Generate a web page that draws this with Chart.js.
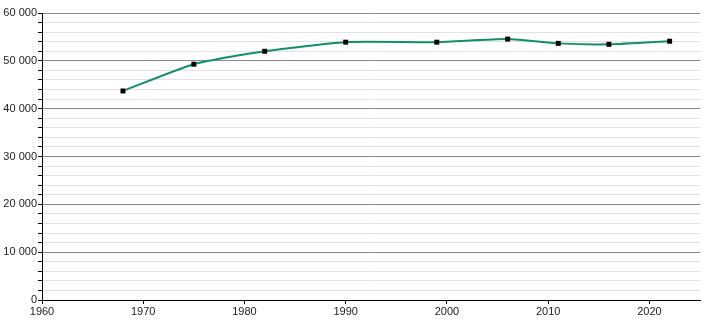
<!DOCTYPE html>
<html>
<head>
<meta charset="utf-8">
<script src="https://cdn.jsdelivr.net/npm/chart.js@4"></script>
<style>
  html, body { margin: 0; padding: 0; background: #fff; }
  #wrap { width: 710px; height: 320px; }
</style>
</head>
<body>
<div id="wrap"><canvas id="pop"></canvas></div>
<script>
// Population by census year.
const years = [1968, 1975, 1982, 1990, 1999, 2006, 2011, 2016, 2022];
const population = [43700, 49300, 52000, 53900, 53900, 54550, 53650, 53450, 54100];

const yTickLabels = [0, 10000, 20000, 30000, 40000, 50000, 60000];
const xTickLabels = [1960, 1970, 1980, 1990, 2000, 2010, 2020];

// "60 000" style formatting
const fmt = v => String(v).replace(/\B(?=(\d{3})+(?!\d))/g, " ");

new Chart(document.getElementById("pop"), {
  type: "line",
  data: {
    datasets: [{
      data: years.map((y, i) => ({ x: y, y: population[i] })),
      borderColor: "#10906a",
      borderWidth: 2,
      tension: 0.2,
      pointStyle: "rect",
      pointRadius: 3.5,
      pointBorderWidth: 0,
      pointBackgroundColor: "#000",
      fill: false,
    }],
  },
  options: {
    responsive: true,
    maintainAspectRatio: false,
    animation: false,
    layout: { padding: { top: 13, right: 10, left: 0, bottom: 0 } },
    plugins: { legend: { display: false }, tooltip: { enabled: false } },
    scales: {
      x: {
        type: "linear",
        min: 1960,
        max: 2025,
        afterBuildTicks: s => { s.ticks = xTickLabels.map(v => ({ value: v })); },
        afterFit: s => { s.height = 20; },
        border: { color: "#000", width: 1 },
        grid: { drawOnChartArea: false, drawTicks: true, tickLength: 4, tickColor: "#000" },
        ticks: {
          autoSkip: false,
          maxRotation: 0,
          padding: 1,
          color: "#222",
          font: { family: "Liberation Sans, Arial, sans-serif", size: 11 },
          callback: v => String(v),
        },
      },
      y: {
        min: 0,
        max: 60000,
        afterBuildTicks: s => {
          const t = [];
          for (let v = 0; v <= 60000; v += 2000) t.push({ value: v });
          s.ticks = t;
        },
        afterFit: s => { s.width = 42; },
        border: { color: "#000", width: 1 },
        grid: {
          color: c => (c.tick && c.tick.value % 10000 === 0) ? "#8a8a8a" : "#e2e2e2",
          tickColor: "#000",
          tickLength: 4,
          lineWidth: 1,
        },
        ticks: {
          autoSkip: false,
          padding: 1,
          color: "#222",
          font: { family: "Liberation Sans, Arial, sans-serif", size: 11 },
          callback: v => yTickLabels.includes(v) ? fmt(v) : "",
        },
      },
    },
  },
});
</script>
</body>
</html>
